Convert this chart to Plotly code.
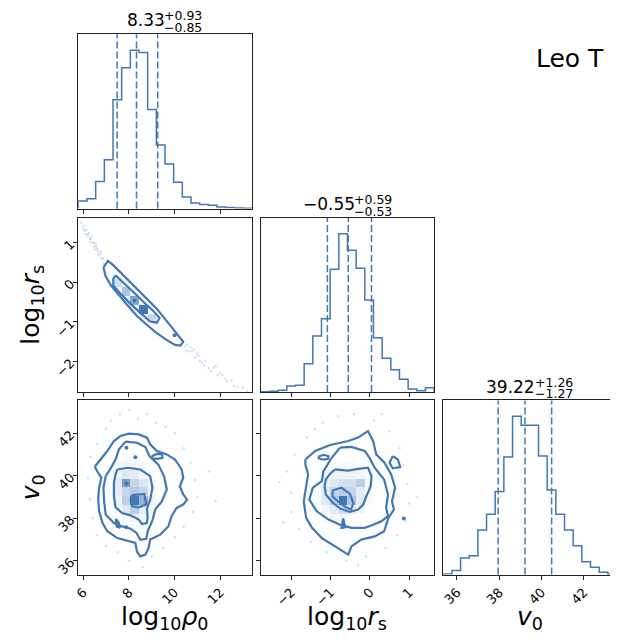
import numpy as np
import plotly.graph_objects as go

PAGE_W, PAGE_H = 618, 642
OFF = 8  # default body margin of the page
FIG_W, FIG_H = PAGE_W - OFF, PAGE_H - OFF
COLOR = "#4277b5"
FAINT = "rgba(66,119,181,0.22)"
FONT = "DejaVu Sans"

# ---------------- data ----------------
rho_range = [5.78, 13.38]
rs_range = [-2.77, 1.63]
v_range = [35.35, 43.55]
N_BINS = 20

rho_ticks = [6, 8, 10, 12]
rs_ticks = [-2, -1, 0, 1]
v_ticks = [36, 38, 40, 42]

rho_counts = [23, 30, 82, 148, 330, 427, 480, 473, 300, 193, 135, 80, 35, 17, 12, 10, 5, 3, 2, 1]
rs_counts = [1, 2, 5, 18, 20, 85, 168, 220, 368, 475, 425, 371, 276, 163, 101, 67, 38, 9, 4, 13]
v_counts = [2, 12, 50, 57, 134, 182, 250, 354, 477, 450, 450, 357, 255, 182, 134, 87, 39, 22, 7, 2]

medians = [8.33, -0.55, 39.22]
err_plus = [0.93, 0.59, 1.26]
err_minus = [0.85, 0.53, 1.27]

labels = ["log<sub>10</sub><i>ρ</i><sub>0</sub>",
          "log<sub>10</sub><i>r</i><sub>s</sub>",
          "<i>v</i><sub>0</sub>"]
title_text = "Leo T"

# contours: log10 rho0 vs log10 rs
c10_x = [
    [6.88, 7.08, 7.31, 7.60, 7.99, 8.35, 8.79, 9.22, 9.66, 10.02, 10.38, 10.26, 10.02, 9.66, 9.15, 8.72, 8.35, 7.92, 7.56, 7.20, 6.98],
    [7.41, 7.60, 7.95, 8.33, 8.72, 9.08, 9.34, 9.22, 8.93, 8.53, 8.11, 7.70, 7.31, 7.31],
]
c10_y = [
    [0.374, 0.54, 0.433, 0.266, 0.058, -0.168, -0.40, -0.67, -0.98, -1.25, -1.50, -1.60, -1.58, -1.46, -1.25, -1.04, -0.85, -0.57, -0.33, -0.07, 0.15],
    [0.18, 0.08, -0.10, -0.32, -0.54, -0.73, -0.90, -1.02, -0.99, -0.79, -0.57, -0.33, -0.08, 0.08],
]
c10_dots_x = [8.25, 10.0]
c10_dots_y = [-0.46, -1.34]

# contours: log10 rho0 vs v0
c20_x = [
    [6.50, 6.76, 7.05, 7.34, 7.63, 7.99, 8.43, 8.79, 8.93, 9.22, 9.66, 10.02, 10.31, 10.38, 10.23, 10.38, 10.55, 10.38, 10.09, 9.87, 9.73, 9.37, 8.93, 8.86, 8.72, 8.50, 8.35, 8.28, 7.92, 7.49, 7.05, 6.84, 6.69, 6.65, 6.69, 6.79, 6.62],
    [7.85, 8.35, 8.72, 8.90, 9.29, 9.54, 9.66, 9.44, 9.15, 9.04, 8.82, 8.76, 8.50, 8.33, 8.07, 7.70, 7.34, 6.98, 6.91, 6.88, 6.98, 7.17, 7.41, 7.56],
    [7.49, 7.95, 8.50, 8.93, 9.03, 8.93, 8.79, 8.82, 8.78, 8.57, 8.43, 8.07, 7.70, 7.41, 7.34, 7.34, 7.41],
    [8.14, 8.67, 8.76, 8.43, 8.14, 8.07],
    [9.00, 9.20, 9.45, 9.47, 9.25, 9.02],
    [7.42, 7.55, 7.60, 7.46],
]
c20_y = [
    [40.43, 40.77, 41.17, 41.64, 41.88, 41.99, 41.95, 41.80, 41.48, 41.17, 41.01, 40.77, 40.30, 39.91, 39.51, 39.12, 38.88, 38.65, 38.49, 38.10, 37.63, 37.23, 37.00, 36.60, 36.29, 36.21, 36.44, 36.84, 36.95, 37.07, 37.39, 37.78, 38.33, 38.96, 39.44, 39.91, 40.19],
    [41.61, 41.56, 41.36, 40.93, 40.53, 39.98, 39.36, 38.80, 38.41, 37.94, 37.39, 37.04, 36.99, 37.31, 37.51, 37.62, 37.78, 38.18, 38.80, 39.44, 39.99, 40.30, 40.77, 41.25],
    [40.30, 40.38, 40.30, 39.99, 39.44, 38.88, 38.46, 38.05, 37.78, 37.73, 37.94, 38.14, 38.25, 38.52, 39.04, 39.67, 40.06],
    [39.09, 39.15, 38.65, 38.52, 38.57, 38.88],
    [40.92, 41.02, 41.02, 40.85, 40.80, 40.82],
    [37.97, 37.80, 37.55, 37.62],
]
c20_dots_x = [7.89, 8.28, 7.89, 7.89]
c20_dots_y = [39.64, 40.88, 41.32, 37.58]

# contours: log10 rs vs v0
c21_x = [
    [-1.64, -1.39, -1.01, -0.55, -0.30, -0.05, 0.08, 0.16, 0.37, 0.54, 0.64, 0.56, 0.61, 0.47, 0.36, 0.12, -0.22, -0.47, -0.55, -0.68, -0.93, -1.22, -1.47, -1.62, -1.68, -1.62, -1.57, -1.64],
    [-0.76, -0.47, -0.13, -0.01, 0.12, 0.36, 0.46, 0.41, 0.46, 0.29, 0.08, -0.13, -0.47, -0.76, -1.05, -1.35, -1.54, -1.45, -1.22, -1.18, -0.97],
    [-0.89, -0.55, -0.30, -0.05, 0.04, 0.02, -0.09, -0.17, -0.30, -0.51, -0.76, -0.97, -1.12, -1.15, -1.12, -1.01],
    [-0.95, -0.72, -0.51, -0.42, -0.48, -0.65, -0.84, -0.95],
    [-1.31, -1.18, -1.05, -1.06, -1.18, -1.30],
    [0.58, 0.71, 0.77, 0.58, 0.50],
    [-0.68, -0.63, -0.72],
]
c21_y = [
    [40.77, 41.17, 41.45, 41.64, 41.80, 42.11, 41.64, 41.01, 40.62, 40.07, 39.44, 38.80, 38.41, 38.02, 37.39, 37.15, 37.00, 36.68, 36.29, 36.44, 36.76, 37.07, 37.55, 38.02, 38.80, 39.44, 40.07, 40.54],
    [41.33, 41.36, 41.17, 40.85, 40.38, 39.83, 39.12, 38.49, 38.10, 37.86, 37.70, 37.55, 37.55, 37.70, 37.94, 38.33, 38.88, 39.44, 39.75, 40.22, 40.85],
    [40.30, 40.25, 40.33, 40.38, 39.99, 39.51, 39.04, 38.65, 38.41, 38.30, 38.46, 38.78, 39.12, 39.51, 39.83, 40.10],
    [39.31, 39.44, 39.15, 38.72, 38.41, 38.57, 38.84, 39.04],
    [40.90, 40.99, 40.92, 40.80, 40.76, 40.82],
    [40.93, 40.77, 40.41, 40.35, 40.62],
    [37.99, 37.58, 37.55],
]
c21_dots_x = [0.86]
c21_dots_y = [37.99]

# shaded 2-D histogram cells (bin index x, bin index y, relative density)
h10_ix = [7, 6, 5, 4, 8, 3, 9, 6, 5, 7, 4, 8, 3, 7, 5, 6, 8]
h10_iy = [9, 10, 11, 12, 8, 13, 7, 9, 10, 8, 11, 7, 12, 10, 12, 11, 9]
h10_v = [1.0, 0.8, 0.65, 0.5, 0.55, 0.18, 0.18, 0.3, 0.35, 0.3, 0.25, 0.12, 0.12, 0.2, 0.18, 0.25, 0.12]

h20_ix = [4, 5, 6, 7, 4, 5, 6, 7, 8, 4, 5, 6, 7, 8, 4, 5, 6, 7, 8, 4, 5, 6, 7, 8, 4, 5, 6, 7, 8, 5, 6, 7, 5, 6, 7, 5, 6, 3, 3, 3, 3]
h20_iy = [12, 12, 12, 12, 11, 11, 11, 11, 11, 10, 10, 10, 10, 10, 9, 9, 9, 9, 9, 8, 8, 8, 8, 8, 7, 7, 7, 7, 7, 6, 6, 6, 5, 5, 5, 13, 13, 8, 9, 10, 11]
h20_v = [0.2, 0.25, 0.25, 0.2, 0.3, 0.42, 0.38, 0.25, 0.15, 0.38, 0.85, 0.55, 0.42, 0.25, 0.38, 0.55, 0.62, 0.55, 0.25, 0.3, 0.6, 1.0, 0.75, 0.3, 0.2, 0.42, 0.6, 0.38, 0.18, 0.25, 0.3, 0.25, 0.12, 0.18, 0.12, 0.12, 0.15, 0.1, 0.1, 0.1, 0.1]

h21_ix = [7, 8, 9, 10, 11, 6, 7, 8, 9, 10, 11, 12, 6, 7, 8, 9, 10, 11, 12, 6, 7, 8, 9, 10, 11, 12, 6, 7, 8, 9, 10, 11, 12, 6, 7, 8, 9, 10, 11, 7, 8, 9, 10, 8, 9]
h21_iy = [12, 12, 12, 12, 12, 11, 11, 11, 11, 11, 11, 11, 10, 10, 10, 10, 10, 10, 10, 9, 9, 9, 9, 9, 9, 9, 8, 8, 8, 8, 8, 8, 8, 7, 7, 7, 7, 7, 7, 6, 6, 6, 6, 5, 5]
h21_v = [0.12, 0.18, 0.18, 0.18, 0.12, 0.12, 0.25, 0.3, 0.3, 0.3, 0.25, 0.12, 0.18, 0.3, 0.42, 0.48, 0.48, 0.6, 0.25, 0.18, 0.38, 0.55, 0.6, 0.55, 0.38, 0.18, 0.18, 0.38, 0.6, 1.0, 0.65, 0.38, 0.18, 0.12, 0.25, 0.38, 0.5, 0.38, 0.25, 0.18, 0.25, 0.25, 0.18, 0.12, 0.12]

# faint individual samples outside the contours
p10_x = [5.92, 6.0, 6.05, 6.12, 6.2, 6.28, 6.33, 6.4, 6.48, 6.55, 6.62, 6.7, 6.78, 6.85, 6.2, 6.45, 6.6, 6.35, 6.9, 6.75,
         6.1, 6.3, 6.55, 6.8, 6.5, 6.0, 6.65, 6.25,
         10.45, 10.6, 10.75, 10.9, 11.05, 11.2, 11.35, 11.5, 11.7, 11.9, 12.1, 12.3, 12.5, 12.75, 13.0, 13.2, 10.7, 11.1, 11.6, 12.2,
         10.55, 10.85, 11.3, 11.8, 12.6, 10.5, 11.0, 12.0]
p10_y = [1.50, 1.42, 1.30, 1.32, 1.22, 1.10, 1.09, 1.0, 0.90, 0.92, 0.8, 0.68, 0.73, 0.6, 1.16, 1.0, 0.86, 1.16, 0.47, 0.78,
         1.22, 1.02, 0.98, 0.6, 0.82, 1.35, 0.72, 1.25,
         -1.62, -1.74, -1.74, -1.90, -1.86, -2.03, -2.0, -2.17, -2.16, -2.35, -2.34, -2.5, -2.48, -2.64, -2.66, -2.75, -1.64, -1.99, -2.24, -2.44,
         -1.58, -1.70, -2.10, -2.12, -2.62, -1.72, -1.80, -2.30]
p20_x = [7.2, 7.6, 8.0, 8.4, 8.8, 9.2, 9.6, 10.0, 7.0, 6.6, 6.3, 6.2, 6.3, 6.4, 6.6, 7.0, 7.5, 8.0, 9.0, 9.5, 10.0, 10.4, 10.8, 11.0, 10.9, 10.7, 10.4, 11.5, 11.8, 8.6]
p20_y = [42.6, 42.9, 43.1, 42.7, 42.9, 42.5, 42.3, 42.0, 42.2, 41.5, 40.9, 39.9, 38.9, 38.0, 37.2, 36.7, 36.4, 36.0, 36.2, 36.6, 37.1, 37.6, 38.3, 39.0, 39.8, 40.6, 41.3, 40.2, 38.8, 35.7]
p21_x = [-1.2, -0.8, -0.4, 0.1, 0.5, -1.6, -1.9, -2.1, -2.0, -2.0, -1.8, -1.5, -1.1, -0.6, -0.1, 0.4, 0.7, 0.9, 1.0, 0.95, 0.85, 0.75, -2.3, 1.2, -0.3, -1.4, 0.3, -2.2]
p21_y = [42.5, 42.8, 42.9, 42.6, 42.1, 41.8, 41.0, 40.2, 39.2, 38.3, 37.5, 36.9, 36.4, 36.0, 36.2, 36.6, 37.2, 37.9, 38.7, 39.6, 40.5, 41.3, 39.7, 39.0, 35.8, 42.2, 42.9, 37.8]

# ---------------- layout geometry (page pixels) ----------------
cols_px = [(74.0, 249.0), (258.3, 433.3), (442.5, 617.5)]
rows_px = [(34.5, 209.5), (218.8, 393.8), (402.3, 577.3)]
ranges = [rho_range, rs_range, v_range]
ticks = [rho_ticks, rs_ticks, v_ticks]
counts = [rho_counts, rs_counts, v_counts]


def px_x(p):
    return (p - OFF) / FIG_W


def px_y(p):
    return 1 - (p - OFF) / FIG_H


# panel -> axis number
panels = {(0, 0): 1, (1, 0): 2, (1, 1): 3, (2, 0): 4, (2, 1): 5, (2, 2): 6}

fig = go.Figure()
layout = dict(width=FIG_W, height=FIG_H, margin=dict(l=0, r=0, t=0, b=0, pad=0), autosize=False,
              paper_bgcolor="white", plot_bgcolor="white", showlegend=False,
              font=dict(family=FONT, color="black"))

axis_common = dict(showline=True, linecolor="#222", linewidth=1, mirror=True, showgrid=False,
                   zeroline=False, ticks="outside", ticklen=4, tickwidth=1, tickcolor="#222",
                   tickangle=-45, tickfont=dict(family=FONT, size=13, color="black"))

for (r, c), n in panels.items():
    l, rr = cols_px[c]
    t, b = rows_px[r]
    xname = "xaxis" if n == 1 else f"xaxis{n}"
    yname = "yaxis" if n == 1 else f"yaxis{n}"
    xa = dict(axis_common, domain=[px_x(l), px_x(rr)], range=ranges[c], tickvals=ticks[c],
              showticklabels=(r == 2), anchor=f"y{n}" if n > 1 else "y")
    if r == c:
        ya = dict(axis_common, domain=[px_y(b), px_y(t)], range=[0, 1.1 * max(counts[c])],
                  ticks="", showticklabels=False, anchor=f"x{n}" if n > 1 else "x")
    else:
        ya = dict(axis_common, domain=[px_y(b), px_y(t)], range=ranges[r], tickvals=ticks[r],
                  showticklabels=(c == 0), anchor=f"x{n}" if n > 1 else "x")
    layout[xname] = xa
    layout[yname] = ya


def ax(n):
    return ("x", "y") if n == 1 else (f"x{n}", f"y{n}")


# ---------------- 1-D histograms ----------------
shapes = []
for i in range(3):
    n = panels[(i, i)]
    xr, yr = ax(n)
    lo, hi = ranges[i]
    edges = np.linspace(lo, hi, N_BINS + 1)
    xs = [edges[0]] + list(np.repeat(edges, 2)[1:-1]) + [edges[-1]]
    ys = [0] + list(np.repeat(counts[i], 2)) + [0]
    fig.add_trace(go.Scatter(x=xs, y=ys, mode="lines", line=dict(color=COLOR, width=1.5),
                             xaxis=xr, yaxis=yr, hoverinfo="skip"))
    for q in (medians[i] - err_minus[i], medians[i], medians[i] + err_plus[i]):
        shapes.append(dict(type="line", xref=xr, yref=f"{yr} domain", x0=q, x1=q, y0=0, y1=1,
                           line=dict(color=COLOR, width=1.5, dash="7px,3px")))
layout["shapes"] = shapes


# ---------------- 2-D panels ----------------
def add_density(n, rx, ry, ix, iy, vals):
    xr, yr = ax(n)
    wx = (rx[1] - rx[0]) / N_BINS
    wy = (ry[1] - ry[0]) / N_BINS
    z = [[None] * N_BINS for _ in range(N_BINS)]
    for a, b_, v in zip(ix, iy, vals):
        z[b_][a] = v
    xc = [rx[0] + (k + 0.5) * wx for k in range(N_BINS)]
    yc = [ry[0] + (k + 0.5) * wy for k in range(N_BINS)]
    fig.add_trace(go.Heatmap(x=xc, y=yc, z=z, zmin=0, zmax=1, showscale=False,
                             colorscale=[[0, "rgba(255,255,255,0)"], [1, COLOR]],
                             xaxis=xr, yaxis=yr, hoverinfo="skip", zsmooth=False))


def add_points(n, px, py):
    xr, yr = ax(n)
    fig.add_trace(go.Scatter(x=px, y=py, mode="markers", marker=dict(color=FAINT, size=2.5),
                             xaxis=xr, yaxis=yr, hoverinfo="skip"))


def add_contours(n, cx, cy, dx, dy):
    xr, yr = ax(n)
    X, Y = [], []
    for a, b_ in zip(cx, cy):
        X += list(a) + [a[0], None]
        Y += list(b_) + [b_[0], None]
    fig.add_trace(go.Scatter(x=X, y=Y, mode="lines", line=dict(color=COLOR, width=2.2),
                             xaxis=xr, yaxis=yr, hoverinfo="skip"))
    fig.add_trace(go.Scatter(x=dx, y=dy, mode="markers", marker=dict(color=COLOR, size=4),
                             xaxis=xr, yaxis=yr, hoverinfo="skip"))


add_points(panels[(1, 0)], p10_x, p10_y)
add_points(panels[(2, 0)], p20_x, p20_y)
add_points(panels[(2, 1)], p21_x, p21_y)
add_density(panels[(1, 0)], rho_range, rs_range, h10_ix, h10_iy, h10_v)
add_density(panels[(2, 0)], rho_range, v_range, h20_ix, h20_iy, h20_v)
add_density(panels[(2, 1)], rs_range, v_range, h21_ix, h21_iy, h21_v)
add_contours(panels[(1, 0)], c10_x, c10_y, c10_dots_x, c10_dots_y)
add_contours(panels[(2, 0)], c20_x, c20_y, c20_dots_x, c20_dots_y)
add_contours(panels[(2, 1)], c21_x, c21_y, c21_dots_x, c21_dots_y)

# ---------------- text ----------------
CW = {d: 0.636 for d in "0123456789"}
CW.update({".": 0.318, "+": 0.838, "−": 0.838})


def text_w(s, size):
    return sum(CW.get(ch, 0.6) for ch in s) * size


def fmt(v):
    return f"{v:.2f}".replace("-", "−")


ann = []
MAIN, SCRIPT = 17, 12.5
GAP = 1.5  # annotation boxes carry a little padding; pull the scripts in
for i in range(3):
    l, rr = cols_px[i]
    t, _ = rows_px[i]
    main = fmt(medians[i])
    sp = "+" + f"{err_plus[i]:.2f}"
    sm = "−" + f"{err_minus[i]:.2f}"
    cx = (l + rr) / 2
    split = cx + (text_w(main, MAIN) - max(text_w(sp, SCRIPT), text_w(sm, SCRIPT))) / 2
    ann.append(dict(text=main, x=px_x(split + GAP), y=px_y(t - 14), xref="paper", yref="paper",
                    xanchor="right", yanchor="middle", showarrow=False, borderpad=0,
                    font=dict(family=FONT, size=MAIN, color="black")))
    ann.append(dict(text=sp, x=px_x(split - GAP), y=px_y(t - 18.5), xref="paper", yref="paper",
                    xanchor="left", yanchor="middle", showarrow=False, borderpad=0,
                    font=dict(family=FONT, size=SCRIPT, color="black")))
    ann.append(dict(text=sm, x=px_x(split - GAP), y=px_y(t - 6.5), xref="paper", yref="paper",
                    xanchor="left", yanchor="middle", showarrow=False, borderpad=0,
                    font=dict(family=FONT, size=SCRIPT, color="black")))

for c in range(3):
    l, rr = cols_px[c]
    ann.append(dict(text=labels[c], x=px_x((l + rr) / 2), y=px_y(621), xref="paper", yref="paper",
                    xanchor="center", yanchor="middle", showarrow=False,
                    font=dict(family=FONT, size=25, color="black")))
for r in (1, 2):
    t, b = rows_px[r]
    ann.append(dict(text=labels[r], x=px_x(27), y=px_y((t + b) / 2), xref="paper", yref="paper",
                    xanchor="center", yanchor="middle", textangle=-90, showarrow=False,
                    font=dict(family=FONT, size=25, color="black")))

ann.append(dict(text=title_text, x=px_x(571), y=px_y(58.5), xref="paper", yref="paper",
                xanchor="center", yanchor="middle", showarrow=False,
                font=dict(family=FONT, size=25, color="black")))
layout["annotations"] = ann

fig.update_layout(**layout)
fig.write_html("out.html")
